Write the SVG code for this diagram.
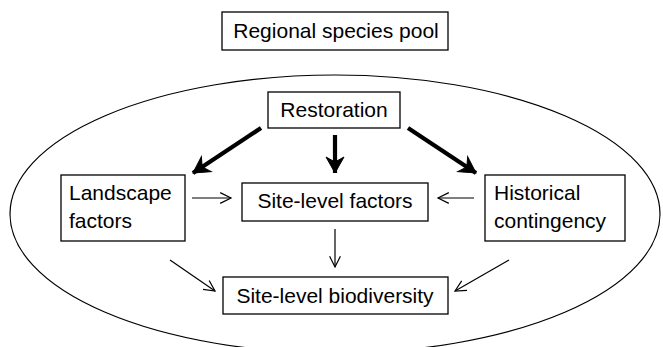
<svg xmlns="http://www.w3.org/2000/svg" width="663" height="347" viewBox="0 0 663 347">
<defs>
<style>
.box{fill:#fff;stroke:#000;stroke-width:1.3}
.t{font-family:"Liberation Sans",Arial,sans-serif;font-size:21px;fill:#000}
.thick{stroke:#000;stroke-width:4.2;fill:none}
.thin{stroke:#000;stroke-width:1.2;fill:none}
</style>
<marker id="hk" markerWidth="20" markerHeight="20" refX="18" refY="10" orient="auto" markerUnits="userSpaceOnUse" viewBox="0 0 20 20">
<path d="M18,10 L2,1 L7,10 L2,19 Z" fill="#000" stroke="#000" stroke-width="1" stroke-linejoin="miter"/>
</marker>
<marker id="hn" markerWidth="12" markerHeight="12" refX="10" refY="6" orient="auto" markerUnits="strokeWidth" viewBox="0 0 12 12">
<polyline points="1,1.5 10,6 1,10.5" fill="none" stroke="#000" stroke-width="1" stroke-linejoin="miter"/>
</marker>
</defs>
<rect width="663" height="347" fill="#fff"/>
<ellipse cx="335" cy="214" rx="325" ry="139" fill="none" stroke="#000" stroke-width="1.2"/>
<g id="pool"><rect class="box" x="222" y="12" width="226" height="38"/><text class="t" x="336" y="38" text-anchor="middle">Regional species pool</text></g>
<g id="restoration"><rect class="box" x="268" y="92" width="132" height="36"/><text class="t" x="334" y="117" text-anchor="middle">Restoration</text></g>
<g id="landscape"><rect class="box" x="61" y="175" width="124" height="66"/><text class="t" x="69" y="200">Landscape</text><text class="t" x="69" y="228">factors</text></g>
<g id="sitefactors"><rect class="box" x="242" y="183" width="186" height="38"/><text class="t" x="335" y="208" text-anchor="middle">Site-level factors</text></g>
<g id="historical"><rect class="box" x="485" y="175" width="140" height="66"/><text class="t" x="494" y="200">Historical</text><text class="t" x="494" y="228">contingency</text></g>
<g id="biodiversity"><rect class="box" x="223" y="277" width="225" height="37"/><text class="t" x="335" y="303" text-anchor="middle">Site-level biodiversity</text></g>
<g id="connectors">
<line class="thick" x1="261" y1="128" x2="193" y2="173" marker-end="url(#hk)"/>
<line class="thick" x1="335" y1="135" x2="335" y2="173" marker-end="url(#hk)"/>
<line class="thick" x1="408" y1="128" x2="476" y2="173" marker-end="url(#hk)"/>
<line class="thin" x1="192" y1="198" x2="231" y2="198" marker-end="url(#hn)"/>
<line class="thin" x1="474" y1="198" x2="438" y2="198" marker-end="url(#hn)"/>
<line class="thin" x1="335" y1="229" x2="335" y2="267" marker-end="url(#hn)"/>
<line class="thin" x1="170" y1="260" x2="215" y2="291" marker-end="url(#hn)"/>
<line class="thin" x1="509" y1="260" x2="455" y2="291" marker-end="url(#hn)"/>
</g>
</svg>
